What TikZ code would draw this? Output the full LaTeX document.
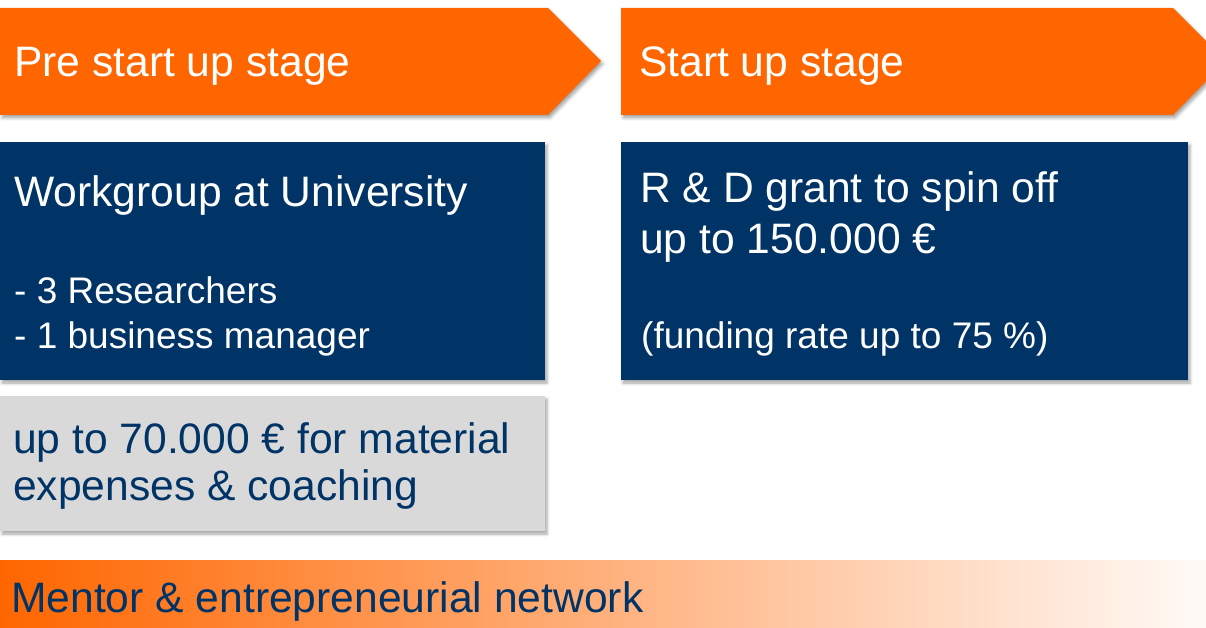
\documentclass[tikz,border=0pt]{standalone}
\usepackage{fontspec}
\setmainfont{Liberation Sans}
\usetikzlibrary{shadows.blur}
\definecolor{orng}{HTML}{FF6600}
\definecolor{navy}{HTML}{003366}
\definecolor{lgray}{HTML}{D9D9D9}
\tikzset{
  shad/.style={blur shadow={shadow xshift=2pt, shadow yshift=-3pt, shadow blur radius=3pt, shadow opacity=35}},
  arrowshape/.style={fill=orng, draw=none, shad},
  navybox/.style={fill=navy, draw=none, shad},
  graybox/.style={fill=lgray, draw=none, shad},
  wtxt/.style={anchor=base west, inner sep=0pt, text=white, font=\fontsize{42.6}{50}\selectfont},
  wsmall/.style={anchor=base west, inner sep=0pt, text=white, font=\fontsize{37}{44}\selectfont},
  ntxt/.style={anchor=base west, inner sep=0pt, text=navy, font=\fontsize{42.6}{50}\selectfont},
}
\begin{document}
\begin{tikzpicture}[x=1pt, y=-1pt]
\useasboundingbox (0,0) rectangle (1206,628);
\clip (0,0) rectangle (1206,628);
% stage arrows
\path[arrowshape] (0,8) -- (548,8) -- (601,61) -- (548,115) -- (0,115) -- cycle;
\path[arrowshape] (621,8) -- (1173,8) -- (1226,61) -- (1173,115) -- (621,115) -- cycle;
% boxes
\path[navybox] (0,142) rectangle (545,380);
\path[navybox] (621,142) rectangle (1188,380);
\path[graybox] (0,396) rectangle (545,531);
% bottom bar
\shade[left color=orng, right color=white!97!orng] (0,560) rectangle (1206,628);
% texts
\node[wtxt] (t1) at (14,77) {Pre start up stage};
\node[wtxt] (t2) at (639,77) {Start up stage};
\node[wtxt] (w1) at (14,207) {Workgroup at University};
\node[wsmall] (w2) at (14,303) {- 3 Researchers};
\node[wsmall] (w3) at (14,348) {- 1 business manager};
\node[wtxt] (r1) at (640,203) {R \& D grant to spin off};
\node[wtxt] (r2) at (640,254) {up to 150.000 €};
\node[wsmall] (r3) at (641,348) {(funding rate up to 75 \%)};
\node[ntxt] (g1) at (13,453) {up to 70.000 € for material};
\node[ntxt] (g2) at (13,500) {expenses \& coaching};
\node[ntxt] (m1) at (11,612) {Mentor \& entrepreneurial network};
\end{tikzpicture}
\end{document}
